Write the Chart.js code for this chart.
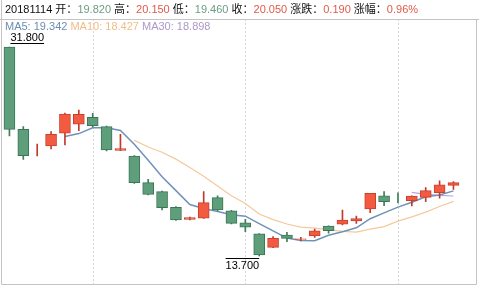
<!DOCTYPE html>
<html>
<head>
<meta charset="utf-8">
<script src="https://cdn.jsdelivr.net/npm/chart.js@4/dist/chart.umd.min.js"></script>
<style>
  html, body { margin: 0; padding: 0; background: #fff; }
  #wrap { position: relative; width: 479px; height: 286px; overflow: hidden; }
  #kline { position: absolute; left: 0; top: 0; }
  .row { position: absolute; left: 5px; font: 11px "Liberation Sans", Arial, "Noto Sans CJK SC", sans-serif; white-space: nowrap; color: #111; }
  #head { top: 3px; line-height: 13px; }
  #ma { top: 20px; line-height: 13px; }
</style>
</head>
<body>
<div id="wrap">
  <canvas id="kline" width="479" height="286"></canvas>
  <div class="row" id="head"></div>
  <div class="row" id="ma"></div>
</div>
<script>
// daily k-line, last 33 sessions

const dates = ["20180921", "20180925", "20180926", "20180927", "20180928", "20181008", "20181009", "20181010",
  "20181011", "20181012", "20181015", "20181016", "20181017", "20181018", "20181019", "20181022", "20181023",
  "20181024", "20181025", "20181026", "20181029", "20181030", "20181031", "20181101", "20181102", "20181105",
  "20181106", "20181107", "20181108", "20181109", "20181112", "20181113", "20181114"];

const opens = [31.80, 24.67, 22.88, 23.23, 24.33, 25.11, 25.71, 24.90, 22.85, 22.36, 20.05, 19.27, 17.92,
  16.86, 16.97, 18.75, 17.62, 16.58, 15.61, 14.45, 15.52, 15.13, 15.43, 16.30, 16.45, 16.73, 17.77, 18.92,
  18.38, 18.49, 18.78, 19.18, 19.82];
const highs = [31.80, 24.90, 23.40, 24.47, 26.08, 26.34, 26.06, 24.95, 24.24, 22.40, 20.34, 19.33, 17.99,
  17.08, 19.27, 18.92, 17.65, 16.88, 15.65, 15.39, 15.75, 15.32, 16.04, 16.32, 17.68, 17.16, 19.13, 19.27,
  19.16, 18.92, 19.62, 20.20, 20.15];
const lows = [24.09, 22.07, 22.36, 22.97, 23.31, 24.55, 24.87, 22.79, 22.82, 19.98, 18.98, 17.68, 16.78,
  16.82, 16.95, 17.60, 16.47, 15.81, 13.70, 14.42, 14.94, 15.00, 15.30, 15.67, 16.40, 16.53, 17.45, 18.06,
  18.29, 18.03, 18.40, 18.70, 19.46];
const closes = [24.67, 22.39, 22.88, 24.24, 26.00, 25.97, 24.98, 22.88, 23.00, 20.05, 19.04, 17.88, 16.82,
  17.03, 18.32, 17.68, 16.53, 16.19, 13.79, 15.23, 15.23, 15.19, 15.89, 15.89, 16.82, 16.93, 19.13, 18.40,
  18.38, 18.90, 19.36, 19.86, 20.05];

const ma5 = [null, null, null, null, 24.04, 24.30, 24.81, 24.81, 24.57, 23.38, 21.99, 20.57, 19.36, 18.16,
  17.82, 17.55, 17.28, 17.15, 16.50, 15.88, 15.25, 15.05, 15.02, 15.49, 15.80, 16.14, 16.93, 17.43, 17.93,
  18.35, 18.83, 18.98, 19.342];
const ma10 = [null, null, null, null, null, null, null, null, null, 23.71, 23.14, 22.69, 22.09, 21.37, 20.60,
  19.77, 18.92, 18.25, 17.33, 16.85, 16.47, 16.20, 16.11, 15.99, 15.84, 15.77, 16.03, 16.25, 16.72, 17.09,
  17.50, 17.99, 18.427];
const ma30 = [null, null, null, null, null, null, null, null, null, null, null, null, null, null, null, null,
  null, null, null, null, null, null, null, null, null, null, null, null, null, 19.21, 19.04, 18.95, 18.898];

const UP = "#e05a47", DOWN = "#6c9e80";

// red = up, green = down; flat candles compare with the previous close
const isUp = opens.map((o, i) => {
  if (closes[i] !== o) return closes[i] > o;
  return i > 0 ? closes[i] >= closes[i - 1] : true;
});

const bodies = opens.map((o, i) => [o, closes[i]]);
const wicks = lows.map((l, i) => [l, highs[i]]);

// header text for the last session
const n = closes.length - 1;
const prev = closes[n - 1];
const chg = closes[n] - prev;
const colorOf = v => (v >= prev ? UP : DOWN);
document.getElementById("head").innerHTML =
  dates[n] + " 开：<span style='color:" + colorOf(opens[n]) + "'>" + opens[n].toFixed(3) + "</span> " +
  "高：<span style='color:" + colorOf(highs[n]) + "'>" + highs[n].toFixed(3) + "</span> " +
  "低：<span style='color:" + colorOf(lows[n]) + "'>" + lows[n].toFixed(3) + "</span> " +
  "收：<span style='color:" + colorOf(closes[n]) + "'>" + closes[n].toFixed(3) + "</span> " +
  "涨跌：<span style='color:" + colorOf(closes[n]) + "'>" + chg.toFixed(3) + "</span> " +
  "涨幅：<span style='color:" + colorOf(closes[n]) + "'>" + (chg / prev * 100).toFixed(2) + "%</span>";
document.getElementById("ma").innerHTML =
  "<span style='color:#6a8db3'>MA5: " + ma5[n].toFixed(3) + "</span> " +
  "<span style='color:#f0bd86'>MA10: " + ma10[n].toFixed(3) + "</span> " +
  "<span style='color:#ad98c8'>MA30: " + ma30[n].toFixed(3) + "</span>";

// frame, dotted grid and high / low marks
const framePlugin = {
  id: "frame",
  beforeDatasetsDraw(chart) {
    const c = chart.ctx, xs = chart.scales.x;
    c.save();
    c.strokeStyle = "#d6d6d6";
    c.lineWidth = 1;
    c.setLineDash([2, 2]);
    for (let i = 6; i < dates.length; i += 11) {
      const x = Math.round(xs.getPixelForValue(i)) + 0.5;
      c.beginPath();
      c.moveTo(x, 19);
      c.lineTo(x, 284);
      c.stroke();
    }
    c.restore();
  },
  afterDraw(chart) {
    const c = chart.ctx, xs = chart.scales.x, ys = chart.scales.y;
    c.save();
    c.strokeStyle = "#c4c4c4";
    c.lineWidth = 1;
    c.beginPath();
    c.moveTo(0, 19.5); c.lineTo(479, 19.5);
    c.moveTo(1.5, 0); c.lineTo(1.5, 284.5);
    c.lineTo(476.5, 284.5); c.lineTo(476.5, 19.5);
    c.stroke();

    const hi = Math.max(...highs), lo = Math.min(...lows);
    const hiI = highs.indexOf(hi), loI = lows.indexOf(lo);
    c.font = "11px 'Liberation Sans', Arial, sans-serif";
    c.fillStyle = "#000";
    c.strokeStyle = "#000";
    const mark = (idx, val, below) => {
      const txt = val.toFixed(3);
      const w = c.measureText(txt).width;
      const x = xs.getPixelForValue(idx);
      const y = ys.getPixelForValue(val);
      const left = x < chart.width / 2 ? x + 1 : x - w;
      if (below) {
        c.fillText(txt, left, Math.round(y) + 13);
        c.beginPath();
        c.moveTo(left, Math.round(y) + 2.5); c.lineTo(left + w, Math.round(y) + 2.5);
        c.stroke();
      } else {
        c.fillText(txt, left, Math.round(y) - 6);
        c.beginPath();
        c.moveTo(left, Math.round(y) - 3.5); c.lineTo(left + w, Math.round(y) - 3.5);
        c.stroke();
      }
    };
    mark(hiI, hi, false);
    mark(loI, lo, true);
    c.restore();
  }
};

const ctx = document.getElementById("kline").getContext("2d");
const kline = new Chart(ctx, {
  data: {
    labels: dates,
    datasets: [
      {
        type: "line", label: "MA5", data: ma5, borderColor: "#6f92b8", borderWidth: 1.5,
        pointRadius: 0, tension: 0, order: 3,
      },
      {
        type: "line", label: "MA10", data: ma10, borderColor: "#f5c99c", borderWidth: 1.2,
        pointRadius: 0, tension: 0, order: 3,
      },
      {
        type: "line", label: "MA30", data: ma30, borderColor: "#bba6d6", borderWidth: 1.2,
        pointRadius: 0, tension: 0, order: 3,
      },
      {
        type: "bar", label: "wick", data: wicks, grouped: false, barThickness: 1,
        backgroundColor: isUp.map(u => (u ? "#c23a2a" : "#3f7d5c")), order: 2,
      },
      {
        type: "bar", label: "body", data: bodies, grouped: false, barThickness: 11,
        backgroundColor: isUp.map(u => (u ? "#f25b40" : "#5f9e7b")),
        borderColor: isUp.map(u => (u ? "#c8402e" : "#3a7656")),
        borderWidth: 1, borderSkipped: false, order: 1,
      },
    ],
  },
  options: {
    responsive: false,
    animation: false,
    events: [],
    layout: { padding: { left: 2.5, right: 18.6, top: 35, bottom: 3 } },
    plugins: { legend: { display: false }, tooltip: { enabled: false } },
    scales: {
      x: { type: "category", display: false, offset: true },
      y: { type: "linear", display: false, min: 11.362, max: 32.839 },
    },
  },
  plugins: [framePlugin],
});
</script>
</body>
</html>
